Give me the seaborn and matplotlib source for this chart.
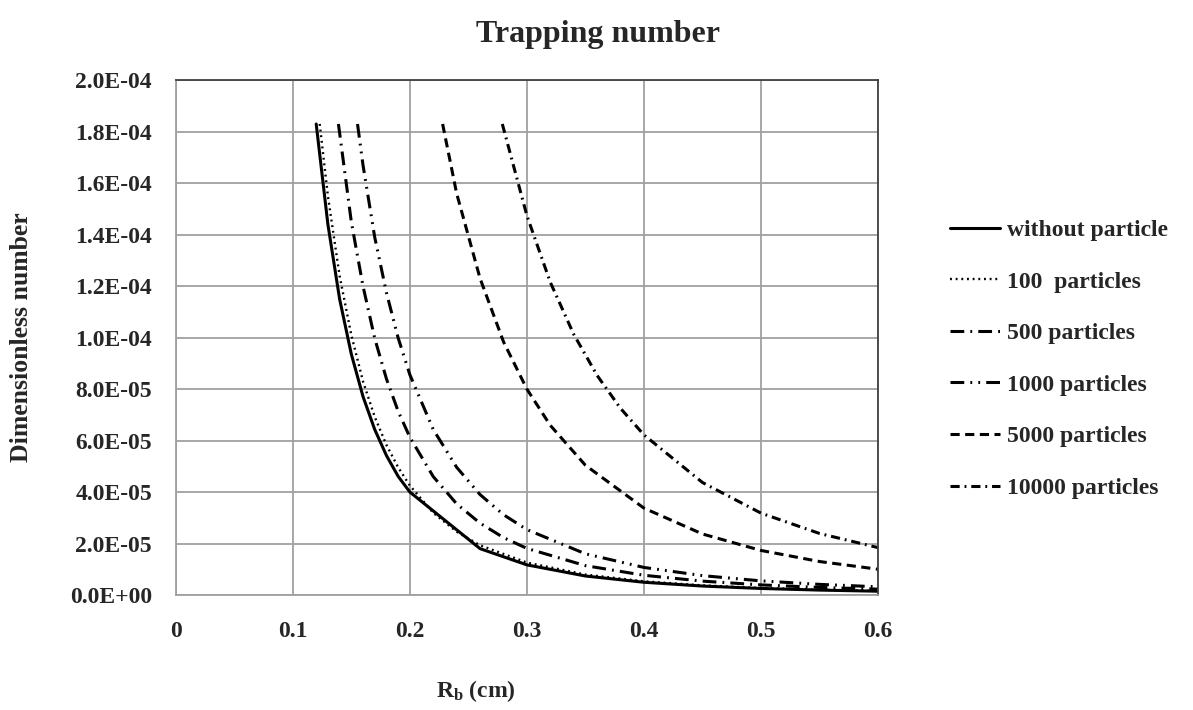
import matplotlib
matplotlib.use("Agg")
import matplotlib.pyplot as plt
from matplotlib.ticker import FuncFormatter, MultipleLocator
import seaborn as sns
import pandas as pd

# ---------------- data ----------------
r_without = [0.12, 0.13, 0.14, 0.15, 0.16, 0.17, 0.18, 0.19, 0.20, 0.26, 0.30, 0.35, 0.40, 0.45, 0.50, 0.55, 0.60]
v_without = [1.83e-4, 1.44e-4, 1.15e-4, 9.36e-5, 7.71e-5, 6.43e-5, 5.42e-5, 4.61e-5, 4.00e-5, 1.80e-5, 1.17e-5,
             7.37e-6, 4.94e-6, 3.47e-6, 2.53e-6, 1.90e-6, 1.46e-6]

r_100 = [0.123, 0.13, 0.14, 0.15, 0.16, 0.17, 0.18, 0.19, 0.20, 0.22, 0.24, 0.26, 0.30, 0.35, 0.40, 0.45, 0.50, 0.55, 0.60]
v_100 = [1.83e-4, 1.55e-4, 1.24e-4, 1.01e-4, 8.30e-5, 6.92e-5, 5.83e-5, 4.96e-5, 4.25e-5, 3.19e-5, 2.46e-5, 1.93e-5,
         1.26e-5, 7.93e-6, 5.31e-6, 3.73e-6, 2.72e-6, 2.04e-6, 1.57e-6]

r_500 = [0.139, 0.15, 0.16, 0.17, 0.18, 0.19, 0.20, 0.22, 0.24, 0.26, 0.28, 0.30, 0.35, 0.40, 0.45, 0.50, 0.55, 0.60]
v_500 = [1.83e-4, 1.45e-4, 1.20e-4, 9.97e-5, 8.40e-5, 7.14e-5, 6.13e-5, 4.60e-5, 3.54e-5, 2.79e-5, 2.23e-5, 1.81e-5,
         1.14e-5, 7.66e-6, 5.38e-6, 3.92e-6, 2.94e-6, 2.27e-6]

r_1000 = [0.1553, 0.16, 0.17, 0.18, 0.19, 0.20, 0.22, 0.24, 0.26, 0.28, 0.30, 0.35, 0.40, 0.45, 0.50, 0.55, 0.60]
v_1000 = [1.83e-4, 1.67e-4, 1.39e-4, 1.175e-4, 9.99e-5, 8.56e-5, 6.43e-5, 4.96e-5, 3.90e-5, 3.12e-5, 2.54e-5,
          1.60e-5, 1.07e-5, 7.52e-6, 5.48e-6, 4.12e-6, 3.17e-6]

r_5000 = [0.228, 0.24, 0.26, 0.28, 0.30, 0.32, 0.35, 0.40, 0.45, 0.50, 0.55, 0.60]
v_5000 = [1.83e-4, 1.56e-4, 1.23e-4, 9.84e-5, 8.00e-5, 6.59e-5, 5.04e-5, 3.375e-5, 2.37e-5, 1.73e-5, 1.30e-5, 1.00e-5]

r_10000 = [0.279, 0.30, 0.32, 0.34, 0.36, 0.38, 0.40, 0.45, 0.50, 0.55, 0.60]
v_10000 = [1.83e-4, 1.474e-4, 1.215e-4, 1.013e-4, 8.53e-5, 7.25e-5, 6.22e-5, 4.37e-5, 3.18e-5, 2.39e-5, 1.84e-5]

labels = ["without particle", "100  particles", "500 particles", "1000 particles", "5000 particles", "10000 particles"]
x_ticks = [0, 0.1, 0.2, 0.3, 0.4, 0.5, 0.6]

# ---------------- style ----------------
sns.set_style("white")
plt.rcParams["font.family"] = ["Liberation Serif", "DejaVu Serif"]
plt.rcParams["font.weight"] = "bold"
plt.rcParams["mathtext.fontset"] = "custom"
plt.rcParams["mathtext.rm"] = "Liberation Serif:bold"
plt.rcParams["mathtext.bf"] = "Liberation Serif:bold"
plt.rcParams["mathtext.it"] = "Liberation Serif:bold"

fig = plt.figure(figsize=(11.93, 7.10), dpi=100)
ax = fig.add_axes([0.1473, 0.162, 0.5887, 0.725])

series = [
    (r_without, v_without, dict(linestyle="-", lw=2.2)),
    (r_100, v_100, dict(linestyle=(0, (0.8, 1.6)), lw=1.7)),
    (r_500, v_500, dict(linestyle=(0, (4.5, 2.0, 0.6, 2.0)), lw=2.2)),
    (r_1000, v_1000, dict(linestyle=(0, (4.5, 2.0, 0.6, 2.0, 0.6, 2.0)), lw=2.2)),
    (r_5000, v_5000, dict(linestyle=(0, (3.0, 1.8)), lw=2.2)),
    (r_10000, v_10000, dict(linestyle=(0, (3.0, 1.6, 0.6, 1.6)), lw=2.2)),
]

for (rx, vy, kw), lab in zip(series, labels):
    df = pd.DataFrame({"R": rx, "v": vy})
    sns.lineplot(data=df, x="R", y="v", ax=ax, color="black", label=lab, **kw)

ax.set_xlim(0, 0.6)
ax.set_ylim(0, 2.0e-4)
ax.set_xticks(x_ticks)
ax.yaxis.set_major_locator(MultipleLocator(2.0e-5))
ax.xaxis.set_major_formatter(FuncFormatter(lambda v, p: "0" if abs(v) < 1e-12 else f"{v:.1f}"))
ax.yaxis.set_major_formatter(FuncFormatter(lambda v, p: f"{v:.1E}"))
ax.tick_params(axis="both", length=0, labelsize=17)
ax.tick_params(axis="x", pad=19)
ax.tick_params(axis="y", pad=17)
for lbl in ax.get_xticklabels() + ax.get_yticklabels():
    lbl.set_fontweight("bold")

ax.grid(True, color="#a0a0a0", lw=1.3)
ax.set_axisbelow(True)
for side in ["left", "bottom"]:
    ax.spines[side].set_color("#a0a0a0")
    ax.spines[side].set_linewidth(1.3)
for side in ["top", "right"]:
    ax.spines[side].set_color("#404040")
    ax.spines[side].set_linewidth(1.3)

ax.set_xlabel(r"$\mathrm{R_b}$ (cm)", fontsize=17, fontweight="bold")
ax.xaxis.set_label_coords(0.427, -0.162)
ax.set_ylabel("Dimensionless number", fontsize=18.5, fontweight="bold")
ax.yaxis.set_label_coords(-0.203, 0.5)

fig.text(0.501, 0.951, "Trapping number", ha="center", va="center", fontsize=23, fontweight="bold")

leg = ax.legend(loc="center left", bbox_to_anchor=(1.1025, 0.458), frameon=False, fontsize=17,
                handlelength=2.1, handletextpad=0.3, labelspacing=1.27, borderpad=0, borderaxespad=0)
for t in leg.get_texts():
    t.set_fontweight("bold")

fig.savefig("out.png", dpi=100)
